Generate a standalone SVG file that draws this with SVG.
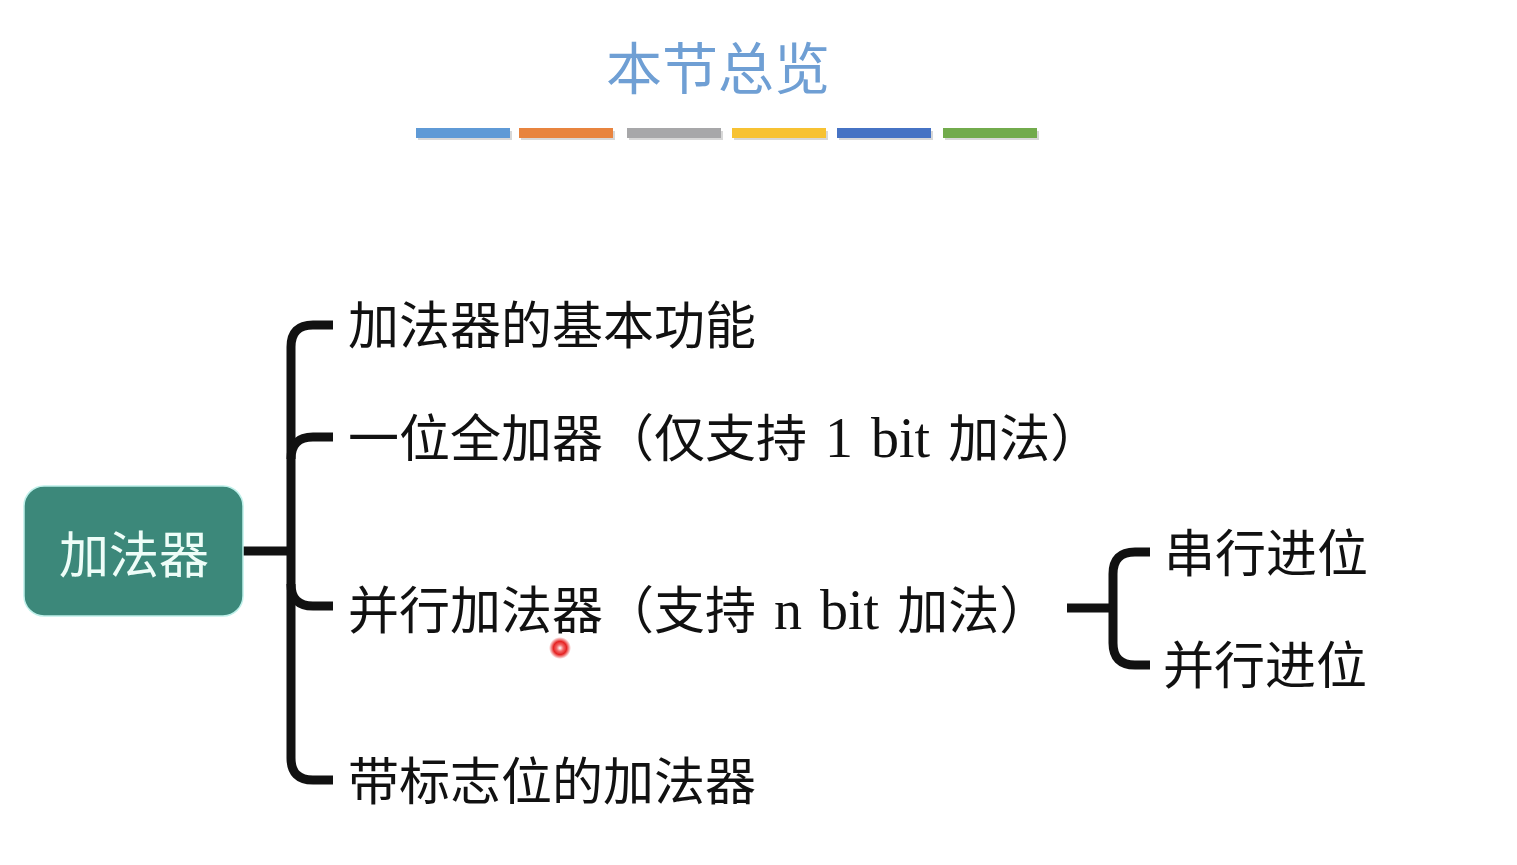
<svg xmlns="http://www.w3.org/2000/svg" width="1517" height="865" viewBox="0 0 1517 865">
<style>
.cjk{font-family:"Noto Sans CJK SC","Noto Sans",sans-serif;}
.item{font-size:51px;fill:#111;}
.lat{font-family:"Liberation Serif","Noto Sans CJK SC",serif;font-size:56px;word-spacing:4px;}
.ln{fill:none;stroke:#111;stroke-width:9;stroke-linecap:butt;stroke-linejoin:round;}
</style>
<defs>
<radialGradient id="dot" cx="0.5" cy="0.5" r="0.5">
<stop offset="0" stop-color="#fff"/>
<stop offset="0.3" stop-color="#f26a6a"/>
<stop offset="0.6" stop-color="#e52222"/>
<stop offset="1" stop-color="#e52222" stop-opacity="0"/>
</radialGradient>
</defs>
<rect width="1517" height="865" fill="#fff"/>
<g id="title">
<text class="cjk" x="718" y="89" text-anchor="middle" font-size="56" fill="#6f9fd4">本节总览</text>
<g id="bars">
<rect x="418" y="131" width="94" height="9" fill="#d8d8d8"/>
<rect x="521" y="131" width="94" height="9" fill="#d8d8d8"/>
<rect x="629" y="131" width="94" height="9" fill="#d8d8d8"/>
<rect x="734" y="131" width="94" height="9" fill="#d8d8d8"/>
<rect x="839" y="131" width="94" height="9" fill="#d8d8d8"/>
<rect x="945" y="131" width="94" height="9" fill="#d8d8d8"/>
<rect x="416" y="128" width="94" height="10" fill="#5f9ad6"/>
<rect x="519" y="128" width="94" height="10" fill="#e8843f"/>
<rect x="627" y="128" width="94" height="10" fill="#a7a7a9"/>
<rect x="732" y="128" width="94" height="10" fill="#f7c233"/>
<rect x="837" y="128" width="94" height="10" fill="#4673c4"/>
<rect x="943" y="128" width="94" height="10" fill="#72ab4c"/>
</g>
</g>
<g id="connectors">
<path class="ln" d="M243,551 H291"/>
<path class="ln" d="M333,325 H313 Q291,325 291,347 V758 Q291,780 313,780 H333"/>
<path class="ln" d="M291,459 Q291,437 313,437 H333"/>
<path class="ln" d="M291,584 Q291,606 313,606 H333"/>
<path class="ln" d="M1067,608 H1113"/>
<path class="ln" d="M1150,552 H1135 Q1113,552 1113,574 V643 Q1113,665 1135,665 H1150"/>
</g>
<g id="root">
<rect x="24" y="486" width="219" height="130" rx="20" fill="#3c887a" stroke="#bff0ea" stroke-width="1.5"/>
<text class="cjk" x="134" y="573" text-anchor="middle" font-size="50" fill="#eefdf8">加法器</text>
</g>
<g id="n1"><text class="cjk item" x="348" y="344">加法器的基本功能</text></g>
<g id="n2"><text class="cjk item" x="348" y="457">一位全加器（仅支持<tspan class="lat"> 1 bit </tspan>加法）</text></g>
<g id="n3"><text class="cjk item" x="348" y="629">并行加法器（支持<tspan class="lat"> n bit </tspan>加法）</text></g>
<g id="n4"><text class="cjk item" x="348" y="800">带标志位的加法器</text></g>
<g id="n5"><text class="cjk item" x="1164" y="572" font-size="50">串行进位</text></g>
<g id="n6"><text class="cjk item" x="1163" y="684" font-size="50">并行进位</text></g>
<circle cx="560" cy="648" r="11" fill="url(#dot)"/>
</svg>
